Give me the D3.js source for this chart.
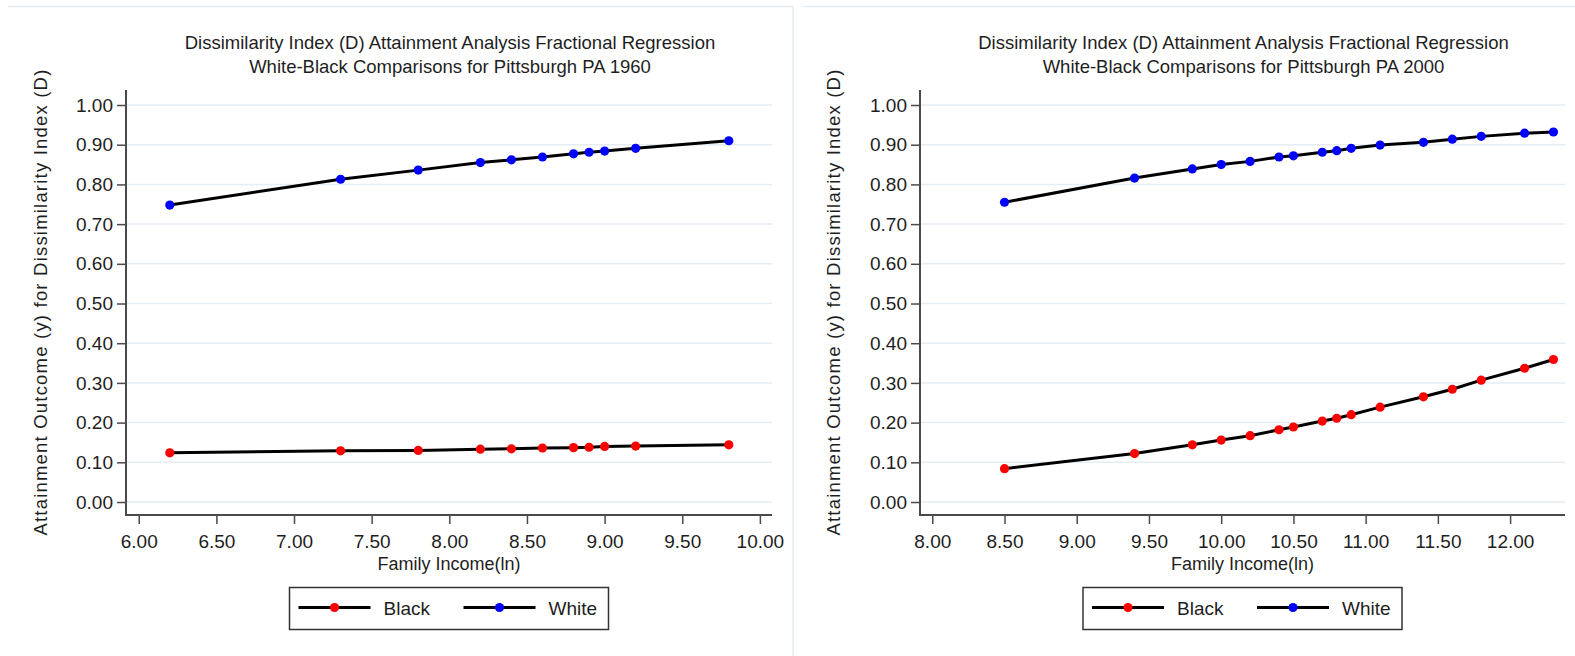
<!DOCTYPE html>
<html>
<head>
<meta charset="utf-8">
<script src="https://cdn.jsdelivr.net/npm/d3@7"></script>
<style>
  html, body { margin: 0; padding: 0; background: #fff; }
  svg { display: block; font-family: "Liberation Sans", Arial, sans-serif; }
</style>
</head>
<body>
<svg id="chart" width="1575" height="656"></svg>
<script>
// ---------- data ----------
const titleLine1 = "Dissimilarity Index (D) Attainment Analysis Fractional Regression";
const titles1960 = "White-Black Comparisons for Pittsburgh PA 1960";
const titles2000 = "White-Black Comparisons for Pittsburgh PA 2000";
const yAxisTitle = "Attainment Outcome (y) for Dissimilarity Index (D)";
const xAxisTitle = "Family Income(ln)";
const seriesNames = ["Black", "White"];

const yTicks = [0, 0.1, 0.2, 0.3, 0.4, 0.5, 0.6, 0.7, 0.8, 0.9, 1.0];

// 1960 panel
const xTicks1960 = [6.0, 6.5, 7.0, 7.5, 8.0, 8.5, 9.0, 9.5, 10.0];
const income1960 = [6.2, 7.3, 7.8, 8.2, 8.4, 8.6, 8.8, 8.9, 9.0, 9.2, 9.8];
const black1960  = [0.124, 0.129, 0.130, 0.133, 0.134, 0.136, 0.137, 0.138, 0.140, 0.141, 0.144];
const white1960  = [0.748, 0.813, 0.836, 0.855, 0.862, 0.869, 0.877, 0.881, 0.884, 0.891, 0.910];

// 2000 panel
const xTicks2000 = [8.0, 8.5, 9.0, 9.5, 10.0, 10.5, 11.0, 11.5, 12.0];
const income2000 = [8.5, 9.4, 9.8, 10.0, 10.2, 10.4, 10.5, 10.7, 10.8, 10.9, 11.1, 11.4, 11.6, 11.8, 12.1, 12.3];
const black2000  = [0.084, 0.122, 0.144, 0.156, 0.167, 0.182, 0.189, 0.204, 0.211, 0.220, 0.239, 0.265, 0.284, 0.307, 0.337, 0.359];
const white2000  = [0.755, 0.816, 0.839, 0.850, 0.858, 0.869, 0.872, 0.881, 0.885, 0.891, 0.899, 0.906, 0.914, 0.921, 0.929, 0.932];

// ---------- drawing ----------
const svg = d3.select("#chart");
const textColor = "#1e1e1e";
const gridColor = "#e5edf2";
const axisColor = "#4a4a4a";
const seriesColors = { Black: "#ff0000", White: "#0000ff" };

// panel frames
svg.append("line").attr("x1", 8).attr("x2", 793).attr("y1", 6.5).attr("y2", 6.5)
  .attr("stroke", "#e4ecf1").attr("stroke-width", 1.5);
svg.append("line").attr("x1", 793).attr("x2", 793).attr("y1", 6.5).attr("y2", 656)
  .attr("stroke", "#e4ecf1").attr("stroke-width", 1.5);
svg.append("line").attr("x1", 802).attr("x2", 1575).attr("y1", 6.5).attr("y2", 6.5)
  .attr("stroke", "#e4ecf1").attr("stroke-width", 1.5);

function panel(cfg) {
  const g = svg.append("g");
  const x = d3.scaleLinear().domain(cfg.xDomain).range([cfg.left, cfg.right]);
  const y = d3.scaleLinear().domain([-0.0327, 1.0378]).range([515, 90]);
  const cx = (cfg.left + cfg.right) / 2;

  // title
  g.append("text").attr("x", cx + 1).attr("y", 48.5).attr("text-anchor", "middle")
    .attr("font-size", 18.5).attr("fill", textColor).text(titleLine1);
  g.append("text").attr("x", cx + 1).attr("y", 72.5).attr("text-anchor", "middle")
    .attr("font-size", 18.5).attr("fill", textColor).text(cfg.subtitle);

  // gridlines
  g.append("g").selectAll("line").data(yTicks).join("line")
    .attr("x1", cfg.left + 1).attr("x2", cfg.right)
    .attr("y1", d => y(d)).attr("y2", d => y(d))
    .attr("stroke", gridColor).attr("stroke-width", 1.5);

  // y axis
  const ya = g.append("g").attr("transform", `translate(${cfg.left},0)`)
    .call(d3.axisLeft(y).tickValues(yTicks).tickFormat(d3.format(".2f")).tickSize(9).tickPadding(4));
  ya.select(".domain").remove();
  ya.selectAll(".tick line").attr("stroke", axisColor).attr("stroke-width", 1.5);
  ya.selectAll(".tick text").attr("font-size", 19).attr("fill", textColor)
    .attr("font-family", "Liberation Sans, Arial, sans-serif");
  g.append("line").attr("x1", cfg.left).attr("x2", cfg.left).attr("y1", 90).attr("y2", 516)
    .attr("stroke", axisColor).attr("stroke-width", 2);

  // x axis
  const xa = g.append("g").attr("transform", `translate(0,515)`)
    .call(d3.axisBottom(x).tickValues(cfg.xTicks).tickFormat(d3.format(".2f")).tickSize(9).tickPadding(11));
  xa.select(".domain").remove();
  xa.selectAll(".tick line").attr("stroke", axisColor).attr("stroke-width", 1.5);
  xa.selectAll(".tick text").attr("font-size", 19).attr("fill", textColor)
    .attr("font-family", "Liberation Sans, Arial, sans-serif");
  g.append("line").attr("x1", cfg.left - 1).attr("x2", cfg.right).attr("y1", 515).attr("y2", 515)
    .attr("stroke", axisColor).attr("stroke-width", 2);

  // axis titles
  g.append("text").attr("transform", `translate(${cfg.yTitleX},302) rotate(-90)`)
    .attr("text-anchor", "middle").attr("font-size", 18.5).attr("letter-spacing", 1.2)
    .attr("fill", textColor).text(yAxisTitle);
  g.append("text").attr("x", cx).attr("y", 569.5).attr("text-anchor", "middle")
    .attr("font-size", 18).attr("fill", textColor).text(xAxisTitle);

  // series
  const line = d3.line().x(d => x(d[0])).y(d => y(d[1]));
  cfg.series.forEach(s => {
    const pts = cfg.income.map((v, i) => [v, s.values[i]]);
    g.append("path").datum(pts).attr("d", line)
      .attr("fill", "none").attr("stroke", "#000").attr("stroke-width", 3);
    g.append("g").selectAll("circle").data(pts).join("circle")
      .attr("cx", d => x(d[0])).attr("cy", d => y(d[1])).attr("r", 4.6)
      .attr("fill", seriesColors[s.name]);
  });

  // legend
  const lw = 319, lh = 42;
  const lx = cx - lw / 2, ly = 587.5;
  const lg = g.append("g").attr("transform", `translate(${lx},${ly})`);
  lg.append("rect").attr("width", lw).attr("height", lh).attr("fill", "#fff")
    .attr("stroke", "#333").attr("stroke-width", 1.5);
  seriesNames.forEach((name, i) => {
    const off = i * 165;
    lg.append("line").attr("x1", 9 + off).attr("x2", 81 + off).attr("y1", 20).attr("y2", 20)
      .attr("stroke", "#000").attr("stroke-width", 3);
    lg.append("circle").attr("cx", 45 + off).attr("cy", 20).attr("r", 4.6)
      .attr("fill", seriesColors[name]);
    lg.append("text").attr("x", 94 + off).attr("y", 27).attr("font-size", 19)
      .attr("fill", textColor).text(name);
  });
}

panel({
  left: 126, right: 772, xDomain: [5.918, 10.078], xTicks: xTicks1960,
  subtitle: titles1960, yTitleX: 47, income: income1960,
  series: [{ name: "Black", values: black1960 }, { name: "White", values: white1960 }]
});
panel({
  left: 920, right: 1565, xDomain: [7.915, 12.38], xTicks: xTicks2000,
  subtitle: titles2000, yTitleX: 840, income: income2000,
  series: [{ name: "Black", values: black2000 }, { name: "White", values: white2000 }]
});
</script>
</body>
</html>
